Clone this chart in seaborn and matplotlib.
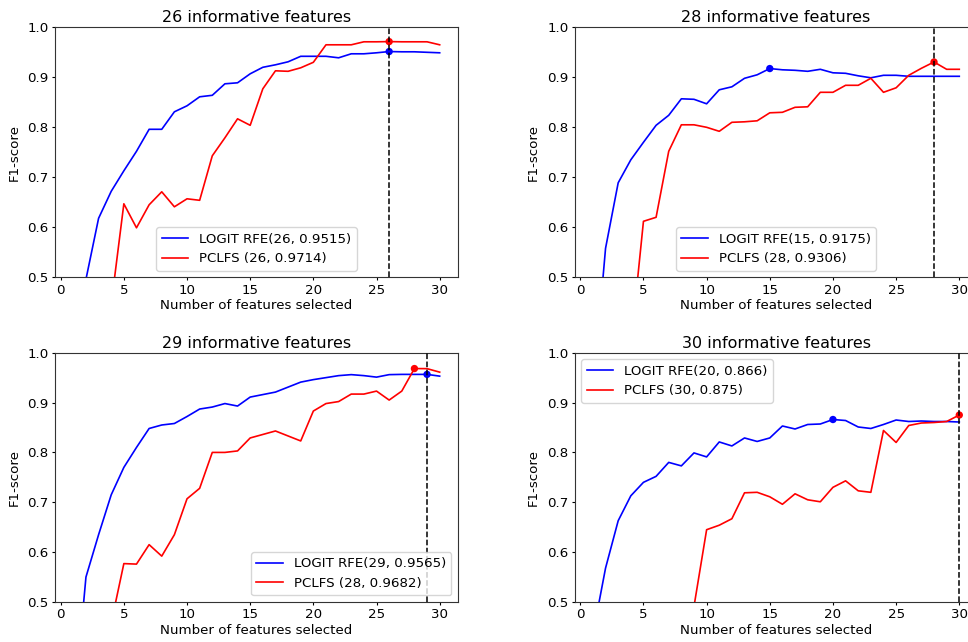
import matplotlib
matplotlib.use("Agg")
import matplotlib.pyplot as plt
import seaborn as sns
import pandas as pd

plt.rcParams['font.family'] = ['DejaVu Sans']
plt.rcParams['font.size'] = 9.6
plt.rcParams['xtick.major.size'] = 2.5
plt.rcParams['ytick.major.size'] = 2.5
plt.rcParams['xtick.major.pad'] = 2.0
plt.rcParams['ytick.major.pad'] = 2.0
plt.rcParams['axes.edgecolor'] = '#333333'

n_features = list(range(1, 31))

titles = ["26 informative features", "28 informative features",
          "29 informative features", "30 informative features"]

tl_logit = [0.30, 0.496, 0.618, 0.672, 0.713, 0.752, 0.796, 0.796, 0.831, 0.843,
            0.861, 0.864, 0.887, 0.889, 0.907, 0.920, 0.925, 0.931, 0.942, 0.942,
            0.942, 0.939, 0.947, 0.947, 0.949, 0.9515, 0.951, 0.951, 0.950, 0.949]
tl_pclfs = [0.30, 0.35, 0.40, 0.446, 0.647, 0.599, 0.645, 0.671, 0.641, 0.657,
            0.654, 0.743, 0.779, 0.817, 0.804, 0.877, 0.913, 0.912, 0.919, 0.930,
            0.965, 0.965, 0.965, 0.971, 0.971, 0.9714, 0.971, 0.971, 0.971, 0.965]

tr_logit = [0.268, 0.558, 0.689, 0.735, 0.770, 0.804, 0.824, 0.857, 0.856, 0.847,
            0.875, 0.881, 0.898, 0.905, 0.9175, 0.915, 0.914, 0.912, 0.916, 0.909,
            0.908, 0.903, 0.899, 0.904, 0.904, 0.902, 0.902, 0.902, 0.902, 0.902]
tr_pclfs = [0.25, 0.30, 0.33, 0.363, 0.612, 0.620, 0.752, 0.805, 0.805, 0.800,
            0.792, 0.810, 0.811, 0.813, 0.829, 0.830, 0.840, 0.841, 0.870, 0.870,
            0.884, 0.884, 0.898, 0.870, 0.879, 0.904, 0.918, 0.9306, 0.916, 0.916]

bl_logit = [0.272, 0.550, 0.635, 0.715, 0.770, 0.810, 0.848, 0.855, 0.858, 0.872,
            0.887, 0.891, 0.898, 0.893, 0.911, 0.916, 0.921, 0.931, 0.941, 0.946,
            0.950, 0.954, 0.956, 0.954, 0.951, 0.956, 0.9565, 0.9565, 0.9565, 0.953]
bl_pclfs = [0.30, 0.36, 0.41, 0.458, 0.577, 0.576, 0.615, 0.592, 0.635, 0.707,
            0.728, 0.800, 0.800, 0.803, 0.829, 0.836, 0.843, 0.833, 0.823, 0.883,
            0.898, 0.902, 0.917, 0.917, 0.923, 0.905, 0.923, 0.9682, 0.968, 0.961]

br_logit = [0.435, 0.568, 0.663, 0.713, 0.740, 0.752, 0.780, 0.773, 0.799, 0.791,
            0.821, 0.813, 0.829, 0.822, 0.829, 0.853, 0.847, 0.856, 0.857, 0.866,
            0.864, 0.851, 0.848, 0.856, 0.865, 0.862, 0.863, 0.862, 0.862, 0.861]
br_pclfs = [0.30, 0.33, 0.35, 0.38, 0.40, 0.42, 0.44, 0.46, 0.491, 0.645,
            0.654, 0.667, 0.719, 0.720, 0.711, 0.696, 0.717, 0.705, 0.701, 0.730,
            0.743, 0.723, 0.720, 0.844, 0.820, 0.854, 0.859, 0.860, 0.862, 0.875]

logit_series = [tl_logit, tr_logit, bl_logit, br_logit]
pclfs_series = [tl_pclfs, tr_pclfs, bl_pclfs, br_pclfs]

logit_best_x = [26, 15, 29, 20]
logit_best_y = [0.9515, 0.9175, 0.9565, 0.866]
pclfs_best_x = [26, 28, 28, 30]
pclfs_best_y = [0.9714, 0.9306, 0.9682, 0.875]
vline_x = [26, 28, 29, 30]
legend_locs = ["lower center", "lower center", "lower right", "upper left"]

x_ticks = [0, 5, 10, 15, 20, 25, 30]
y_ticks = [0.5, 0.6, 0.7, 0.8, 0.9, 1.0]

fig = plt.figure(figsize=(9.68, 6.42), dpi=100)
W, H = 403 / 968, 250 / 642
positions = [
    [55 / 968, (642 - 277.3) / 642, W, H],
    [574.6 / 968, (642 - 277.3) / 642, W, H],
    [55 / 968, (642 - 602) / 642, W, 249.3 / 642],
    [574.6 / 968, (642 - 602) / 642, W, 249.3 / 642],
]

for i in range(4):
    ax = fig.add_axes(positions[i])
    lab_logit = f"LOGIT RFE({logit_best_x[i]}, {logit_best_y[i]})"
    lab_pclfs = f"PCLFS ({pclfs_best_x[i]}, {pclfs_best_y[i]})"
    df = pd.DataFrame({
        "x": n_features + n_features,
        "f1": logit_series[i] + pclfs_series[i],
        "method": [lab_logit] * 30 + [lab_pclfs] * 30,
    })
    sns.lineplot(data=df, x="x", y="f1", hue="method",
                 palette={lab_logit: "blue", lab_pclfs: "red"},
                 hue_order=[lab_logit, lab_pclfs],
                 errorbar=None, linewidth=1.2, ax=ax)
    pts = pd.DataFrame({"x": [logit_best_x[i], pclfs_best_x[i]],
                        "f1": [logit_best_y[i], pclfs_best_y[i]],
                        "c": ["b", "r"]})
    sns.scatterplot(data=pts, x="x", y="f1", hue="c",
                    palette={"b": "blue", "r": "red"}, s=28,
                    edgecolor="none", legend=False, ax=ax, zorder=3)
    ax.axvline(vline_x[i], color="black", linestyle="--", linewidth=1.1, zorder=4)
    ax.set_ylim(0.5, 1.0)
    ax.set_xlim(-0.45, 31.45)
    ax.set_xticks(x_ticks)
    ax.set_yticks(y_ticks)
    ax.set_title(titles[i], fontsize=11.5, pad=3.5)
    ax.set_xlabel("Number of features selected", labelpad=2)
    ax.set_ylabel("F1-score", labelpad=5)
    sns.move_legend(ax, legend_locs[i], title=None, frameon=True)

fig.savefig("out.png", dpi=100)
